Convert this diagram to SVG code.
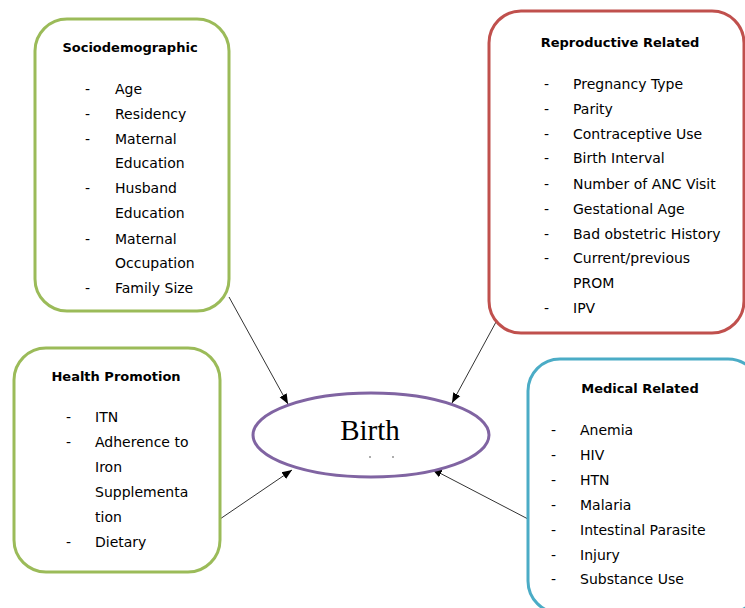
<svg xmlns="http://www.w3.org/2000/svg" width="745" height="608" viewBox="0 0 745 608">
  <defs>
    <marker id="arrow" viewBox="0 0 10 10" refX="10" refY="5" markerWidth="10" markerHeight="10" markerUnits="userSpaceOnUse" orient="auto">
      <path d="M0,1 L10,5 L0,9 Z" fill="#000"/>
    </marker>
  </defs>
  <style>
    .box { fill: #fff; stroke-width: 3; }
    .green { stroke: #9bbb59; }
    .red { stroke: #c0504d; }
    .blue { stroke: #4bacc6; }
    .title { font-family: "DejaVu Sans", "Liberation Sans", sans-serif; font-size: 13px; font-weight: bold; fill: #000; text-anchor: middle; }
    .item { font-family: "DejaVu Sans", "Liberation Sans", sans-serif; font-size: 14px; fill: #000; }
    .conn { stroke: #333; stroke-width: 1; fill: none; marker-end: url(#arrow); }
  </style>
  <rect width="745" height="608" fill="#fff"/>

  <g id="connectors">
    <line class="conn" x1="229" y1="297" x2="288" y2="404"/>
    <line class="conn" x1="496" y1="322" x2="452" y2="403"/>
    <line class="conn" x1="220" y1="519" x2="292" y2="470"/>
    <line class="conn" x1="528" y1="519" x2="432" y2="469"/>
  </g>

  <g id="sociodemographic">
    <rect class="box green" x="35" y="19" width="194" height="292" rx="32"/>
    <text class="title" x="130" y="52">Sociodemographic</text>
    <g class="item">
      <text x="85" y="94">-</text><text x="115" y="94">Age</text>
      <text x="85" y="119">-</text><text x="115" y="119">Residency</text>
      <text x="85" y="144">-</text><text x="115" y="144">Maternal</text>
      <text x="115" y="168">Education</text>
      <text x="85" y="193">-</text><text x="115" y="193">Husband</text>
      <text x="115" y="218">Education</text>
      <text x="85" y="244">-</text><text x="115" y="244">Maternal</text>
      <text x="115" y="268">Occupation</text>
      <text x="85" y="293">-</text><text x="115" y="293">Family Size</text>
    </g>
  </g>

  <g id="reproductive">
    <rect class="box red" x="489" y="11" width="255" height="322" rx="32"/>
    <text class="title" x="620" y="47">Reproductive Related</text>
    <g class="item">
      <text x="544" y="89">-</text><text x="573" y="89">Pregnancy Type</text>
      <text x="544" y="114">-</text><text x="573" y="114">Parity</text>
      <text x="544" y="139">-</text><text x="573" y="139">Contraceptive Use</text>
      <text x="544" y="163">-</text><text x="573" y="163">Birth Interval</text>
      <text x="544" y="189">-</text><text x="573" y="189">Number of ANC Visit</text>
      <text x="544" y="214">-</text><text x="573" y="214">Gestational Age</text>
      <text x="544" y="239">-</text><text x="573" y="239">Bad obstetric History</text>
      <text x="544" y="263">-</text><text x="573" y="263">Current/previous</text>
      <text x="573" y="288">PROM</text>
      <text x="544" y="313">-</text><text x="573" y="313">IPV</text>
    </g>
  </g>

  <g id="health-promotion">
    <rect class="box green" x="14" y="348" width="206" height="224" rx="32"/>
    <text class="title" x="116" y="381">Health Promotion</text>
    <g class="item">
      <text x="66" y="422">-</text><text x="95" y="422">ITN</text>
      <text x="66" y="447">-</text><text x="95" y="447">Adherence to</text>
      <text x="95" y="472">Iron</text>
      <text x="95" y="497">Supplementa</text>
      <text x="95" y="522">tion</text>
      <text x="66" y="547">-</text><text x="95" y="547">Dietary</text>
    </g>
  </g>

  <g id="medical">
    <rect class="box blue" x="528" y="359" width="232" height="254" rx="32"/>
    <text class="title" x="640" y="393">Medical Related</text>
    <g class="item">
      <text x="551" y="435">-</text><text x="580" y="435">Anemia</text>
      <text x="551" y="460">-</text><text x="580" y="460">HIV</text>
      <text x="551" y="485">-</text><text x="580" y="485">HTN</text>
      <text x="551" y="510">-</text><text x="580" y="510">Malaria</text>
      <text x="551" y="535">-</text><text x="580" y="535">Intestinal Parasite</text>
      <text x="551" y="560">-</text><text x="580" y="560">Injury</text>
      <text x="551" y="584">-</text><text x="580" y="584">Substance Use</text>
    </g>
  </g>

  <g id="birth">
    <ellipse cx="371" cy="435" rx="118" ry="42" fill="#fff" stroke="#8064a2" stroke-width="3"/>
    <text x="370" y="440" font-family="Liberation Serif, serif" font-size="29" text-anchor="middle" fill="#000">Birth</text>
    <circle cx="370" cy="457" r="0.8" fill="#444"/>
    <circle cx="393" cy="457" r="0.8" fill="#444"/>
  </g>
</svg>
